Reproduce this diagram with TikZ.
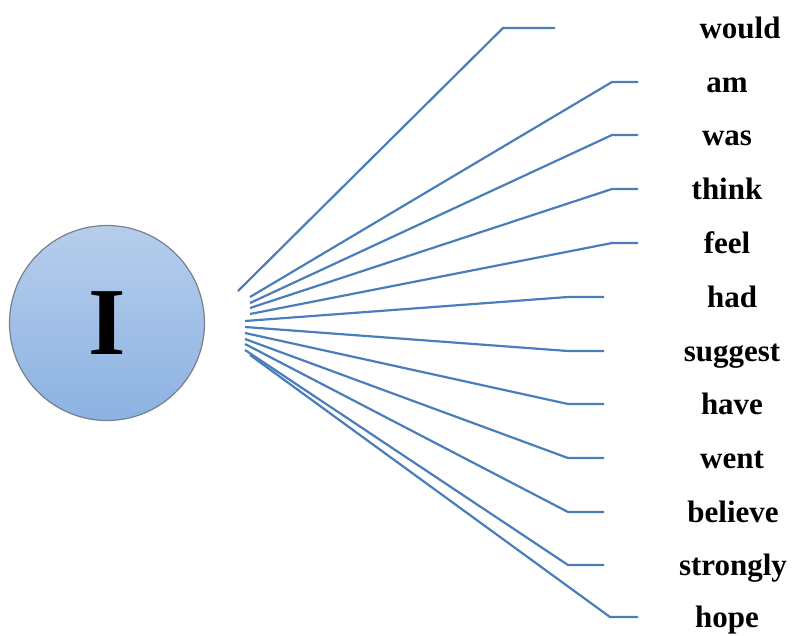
\documentclass[tikz,border=0pt]{standalone}
\usepackage{fontspec}
\setmainfont{Liberation Serif}
\usepackage{tikz}
\usetikzlibrary{calc}
\definecolor{spokeblue}{RGB}{74,126,187}
\definecolor{ballTop}{RGB}{182,206,236}
\definecolor{ballBottom}{RGB}{140,178,226}
\definecolor{ballEdge}{RGB}{120,128,140}

\begin{document}
\begin{tikzpicture}[
    x=1pt, y=-1pt,
    ball/.style={circle, draw=ballEdge, line width=1.2pt,
                 top color=ballTop, bottom color=ballBottom,
                 minimum size=195pt, inner sep=0pt,
                 font=\fontsize{96}{100}\selectfont\bfseries},
    word/.style={anchor=base, inner sep=0pt,
                 font=\fontsize{31}{36}\selectfont\bfseries},
    spoke/.style={draw=spokeblue, line width=2.2pt},
  ]
  \useasboundingbox (0,0) rectangle (792,635);

  % ── Subject ──
  \node[ball] at (107,323) (subj) {I};

  % ── Words (upper group) ──
  \node[word] at (740,38) (would) {would};
  \node[word] at (727,92) (am) {am};
  \node[word] at (727,145) (was) {was};
  \node[word] at (727,199) (think) {think};
  \node[word] at (727,253) (feel) {feel};

  % ── Words (lower group) ──
  \node[word] at (732,307) (had) {had};
  \node[word] at (732,361) (suggest) {suggest};
  \node[word] at (732,414) (have) {have};
  \node[word] at (732,468) (went) {went};
  \node[word] at (733,522) (believe) {believe};
  \node[word] at (733,575) (strongly) {strongly};
  \node[word] at (727,627) (hope) {hope};

  % ── Hub points beside the circle ──
  \coordinate (h-would) at (238,291);
  \coordinate (h-am) at (250,297);
  \coordinate (h-was) at (250,303);
  \coordinate (h-think) at (250,308);
  \coordinate (h-feel) at (250,314);
  \coordinate (h-had) at (245,321);
  \coordinate (h-suggest) at (245,327);
  \coordinate (h-have) at (245,333);
  \coordinate (h-went) at (245,339);
  \coordinate (h-believe) at (245,344);
  \coordinate (h-strongly) at (245,350);
  \coordinate (h-hope) at (250,355);

  % ── Line tips ──
  \coordinate (t-would) at (555,28);
  \coordinate (t-am) at (638,82);
  \coordinate (t-was) at (638,135);
  \coordinate (t-think) at (638,189);
  \coordinate (t-feel) at (638,243);
  \coordinate (t-had) at (604,297);
  \coordinate (t-suggest) at (604,351);
  \coordinate (t-have) at (604,404);
  \coordinate (t-went) at (604,458);
  \coordinate (t-believe) at (604,512);
  \coordinate (t-strongly) at (604,565);
  \coordinate (t-hope) at (638,617);

  % ── Spokes ──
  \draw[spoke] (t-would) -- ++(-52,0) -- (h-would);
  \draw[spoke] (t-am) -- ++(-26,0) -- (h-am);
  \draw[spoke] (t-was) -- ++(-26,0) -- (h-was);
  \draw[spoke] (t-think) -- ++(-26,0) -- (h-think);
  \draw[spoke] (t-feel) -- ++(-26,0) -- (h-feel);
  \draw[spoke] (t-had) -- ++(-36,0) -- (h-had);
  \draw[spoke] (t-suggest) -- ++(-36,0) -- (h-suggest);
  \draw[spoke] (t-have) -- ++(-36,0) -- (h-have);
  \draw[spoke] (t-went) -- ++(-36,0) -- (h-went);
  \draw[spoke] (t-believe) -- ++(-36,0) -- (h-believe);
  \draw[spoke] (t-strongly) -- ++(-36,0) -- (h-strongly);
  \draw[spoke] (t-hope) -- ++(-28,0) -- (h-hope);

\end{tikzpicture}
\end{document}
